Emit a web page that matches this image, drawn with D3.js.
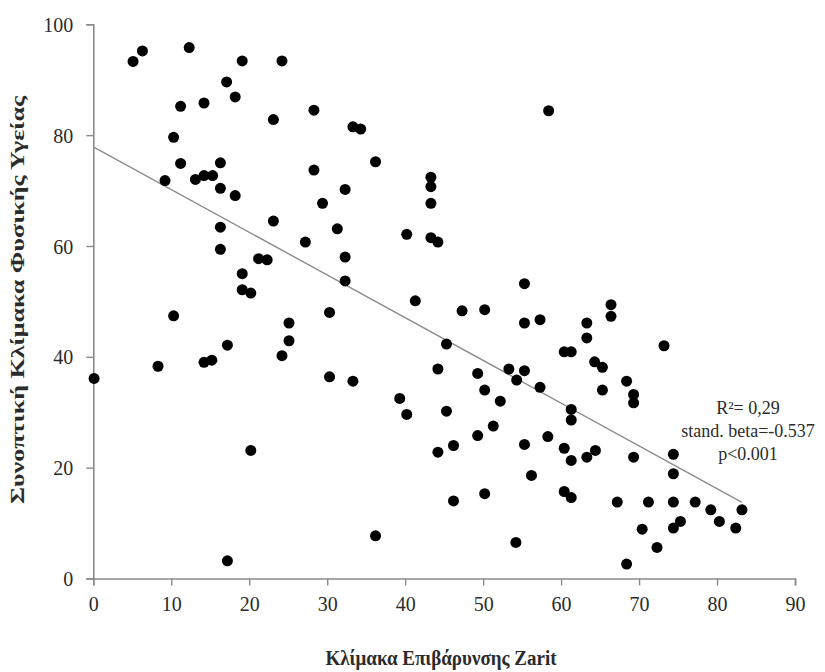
<!DOCTYPE html>
<html>
<head>
<meta charset="utf-8">
<script src="https://cdn.jsdelivr.net/npm/d3@7"></script>
<style>
  html, body { margin: 0; padding: 0; background: #fff; }
  svg { display: block; }
  text { font-family: "Liberation Serif", "Times New Roman", serif; }
</style>
</head>
<body>
<svg id="chart" width="825" height="672"></svg>
<script>
// ---- Data ----
const zaritScores = [
  5.1, 6.3, 12.3, 19.1, 24.2, 17.1, 18.2, 11.2, 14.2, 23.1,
  28.3, 10.3, 11.2, 16.3, 28.3, 9.2, 13.1, 14.2, 15.3, 16.3,
  18.2, 29.4, 23.1, 16.3, 27.2, 16.3, 21.2, 22.3, 19.1, 19.1,
  20.2, 10.3, 30.3, 25.1, 25.1, 17.2, 24.2, 14.2, 15.2, 8.3,
  0.1, 30.3, 20.2, 17.2,
  58.4, 33.3, 34.3, 36.2, 43.3, 43.3, 32.3, 43.3, 31.3, 40.2,
  43.3, 44.2, 32.3, 32.3, 41.3, 47.3, 50.2, 55.3, 55.3, 57.3,
  45.3, 60.4, 61.3, 33.3, 44.2, 49.3, 53.3, 55.3, 54.3, 50.2,
  57.3, 39.3, 52.2, 61.3, 61.3, 40.2, 45.3, 51.3, 49.3, 58.3,
  55.3, 46.2, 44.2, 60.4, 61.3, 56.2, 60.4, 61.3, 50.2, 46.2,
  36.2, 54.2,
  66.4, 66.4, 63.3, 63.3, 73.2, 64.3, 65.3, 68.4, 69.3, 69.3,
  65.3, 63.3, 64.4, 69.3, 74.4, 74.4, 67.2, 71.2, 74.4, 77.2,
  79.2, 83.2, 80.3, 82.4, 70.4, 74.4, 75.3, 72.3, 68.4
];
const physicalHealth = [
  93.3, 95.2, 95.8, 93.4, 93.4, 89.6, 86.9, 85.2, 85.8, 82.8,
  84.5, 79.6, 74.9, 75.0, 73.7, 71.8, 72.0, 72.7, 72.7, 70.4,
  69.1, 67.7, 64.5, 63.4, 60.7, 59.4, 57.7, 57.5, 55.0, 52.1,
  51.5, 47.4, 48.0, 46.1, 42.9, 42.1, 40.2, 39.0, 39.4, 38.3,
  36.1, 36.4, 23.1, 3.2,
  84.4, 81.5, 81.1, 75.2, 72.4, 70.7, 70.2, 67.7, 63.1, 62.1,
  61.5, 60.7, 58.0, 53.7, 50.1, 48.3, 48.5, 53.2, 46.1, 46.7,
  42.3, 40.9, 40.9, 35.6, 37.8, 37.0, 37.8, 37.5, 35.8, 34.0,
  34.5, 32.5, 32.0, 30.5, 28.6, 29.6, 30.2, 27.5, 25.8, 25.6,
  24.2, 24.0, 22.8, 23.5, 21.3, 18.6, 15.7, 14.6, 15.3, 14.0,
  7.7, 6.5,
  49.4, 47.3, 46.1, 43.4, 42.0, 39.1, 38.1, 35.6, 33.2, 31.7,
  34.0, 21.9, 23.1, 21.9, 22.4, 18.9, 13.8, 13.8, 13.8, 13.8,
  12.4, 12.4, 10.3, 9.1, 8.9, 9.1, 10.3, 5.6, 2.6
];
const xTicks = [0, 10, 20, 30, 40, 50, 60, 70, 80, 90];
const yTicks = [0, 20, 40, 60, 80, 100];
const fitIntercept = 77.9;
const fitSlope = -0.771;
const fitRange = [0, 83.2];
const statLines = ["R\u00B2= 0,29", "stand. beta=-0.537", "p<0.001"];
const xTitle = "Κλίμακα Επιβάρυνσης Zarit";
const yTitle = "Συνοπτική Κλίμακα Φυσικής Υγείας";

// ---- Drawing ----
const svg = d3.select("#chart");
const x = d3.scaleLinear().domain([0, 90]).range([93.3, 795]);
const y = d3.scaleLinear().domain([0, 100]).range([578.5, 24.3]);
const axisColor = "#8a8a8a";
const textColor = "#2b2b2b";

const xAxis = svg.append("g")
  .attr("transform", `translate(0,${y(0)})`)
  .call(d3.axisBottom(x).tickValues(xTicks).tickSize(7).tickPadding(8).tickFormat(d3.format("d")));
const yAxis = svg.append("g")
  .attr("transform", `translate(${x(0)},0)`)
  .call(d3.axisLeft(y).tickValues(yTicks).tickSize(7).tickPadding(13).tickFormat(d3.format("d")));

[xAxis, yAxis].forEach(g => {
  g.select(".domain").attr("stroke", axisColor).attr("stroke-width", 1.6);
  g.selectAll(".tick line").attr("stroke", axisColor).attr("stroke-width", 1.4);
  g.selectAll(".tick text")
    .attr("fill", textColor)
    .attr("transform", "scale(1,1.1)")
    .style("font-family", '"Liberation Serif", "Times New Roman", serif')
    .style("font-size", "20px");
});

// regression line
svg.append("line")
  .attr("x1", x(fitRange[0])).attr("y1", y(fitIntercept + fitSlope * fitRange[0]))
  .attr("x2", x(fitRange[1])).attr("y2", y(fitIntercept + fitSlope * fitRange[1]))
  .attr("stroke", "#8c8c8c").attr("stroke-width", 1.4);

// points
const pts = zaritScores.map((v, i) => ({ x: v, y: physicalHealth[i] }));
svg.append("g").selectAll("circle").data(pts).join("circle")
  .attr("cx", d => x(d.x)).attr("cy", d => y(d.y)).attr("r", 5.5)
  .attr("fill", "#000");

// stats annotation
svg.append("g").selectAll("text").data(statLines).join("text")
  .attr("x", 748).attr("y", (d, i) => 414 + i * 23)
  .attr("text-anchor", "middle")
  .attr("fill", textColor)
  .style("font-size", "18px")
  .text(d => d);

// axis titles
svg.append("text")
  .attr("transform", "translate(441,665) scale(1,1.1)")
  .attr("text-anchor", "middle")
  .attr("fill", textColor)
  .style("font-size", "19px").style("font-weight", "bold")
  .attr("textLength", 231).attr("lengthAdjust", "spacingAndGlyphs")
  .text(xTitle);

svg.append("text")
  .attr("transform", "translate(24,300) rotate(-90)")
  .attr("text-anchor", "middle")
  .attr("fill", textColor)
  .style("font-size", "19px").style("font-weight", "bold")
  .attr("textLength", 408).attr("lengthAdjust", "spacingAndGlyphs")
  .text(yTitle);
</script>
</body>
</html>
